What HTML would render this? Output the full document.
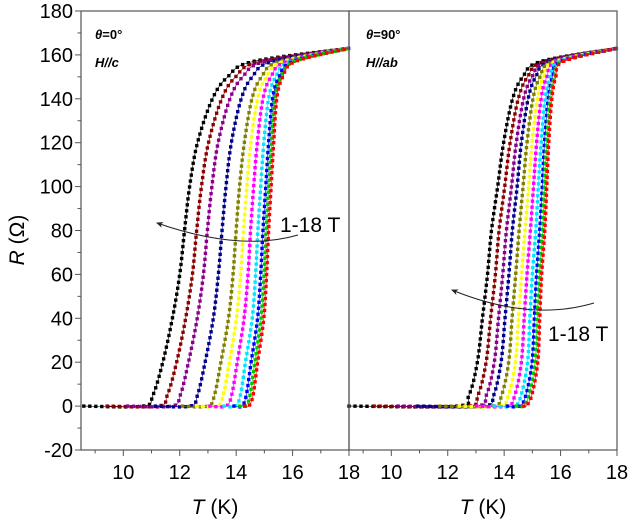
<!DOCTYPE html>
<html><head><meta charset="utf-8"><style>
html,body{margin:0;padding:0;background:#fff;}
svg{display:block;font-family:"Liberation Sans",sans-serif;}
</style></head><body>
<svg id="chart" width="629" height="522" viewBox="0 0 629 522">
<g id="plots"></g>
<g id="axes"></g>
<text x="0" y="0" transform="translate(24,240) rotate(-90)" font-size="21" text-anchor="middle"><tspan font-style="italic">R</tspan> (Ω)</text>
<text x="215" y="514" font-size="21" text-anchor="middle"><tspan font-style="italic">T</tspan> (K)</text>
<text x="483" y="514" font-size="21" text-anchor="middle"><tspan font-style="italic">T</tspan> (K)</text>
<text x="95" y="39" font-size="13" font-weight="bold"><tspan font-style="italic">θ</tspan>=0°</text>
<text x="95" y="67" font-size="13" font-weight="bold" font-style="italic">H//c</text>
<text x="366" y="39" font-size="13" font-weight="bold"><tspan font-style="italic">θ</tspan>=90°</text>
<text x="366" y="67" font-size="13" font-weight="bold" font-style="italic">H//ab</text>
<defs><marker id="ah" markerWidth="8" markerHeight="8" refX="6" refY="4" orient="auto"><path d="M0,1 L7,4 L0,7 L2,4 Z" fill="#222"/></marker></defs>
<path d="M298,235 Q240,252 157,223" fill="none" stroke="#222" stroke-width="1" marker-end="url(#ah)"/>
<text x="280" y="232" font-size="21">1-18 T</text>
<path d="M594,303 Q530,322 452,290" fill="none" stroke="#222" stroke-width="1" marker-end="url(#ah)"/>
<text x="548" y="341" font-size="21">1-18 T</text>
</svg>
<script>
const rLevels=[0,0,5,20,40,60,80,100,120,140,150,157,163];
const colors=["#000000","#8b0000","#8b008b","#00008b","#808000","#ffff00","#ff00ff","#00e5ff","#0000ff","#00cc00","#ff0000"];
const leftBlack=[8.6,10.7,11.05,11.4,11.74,12.0,12.17,12.35,12.63,13.16,13.7,14.6,18];
const leftMaroon=[9.43,11.24,11.56,11.89,12.21,12.45,12.60,12.77,13.02,13.49,13.98,14.82,18];
const leftPurple=[10.15,11.72,12.02,12.31,12.62,12.84,12.98,13.14,13.36,13.78,14.23,15.01,18];
const leftNavy=[11.14,12.37,12.63,12.90,13.19,13.37,13.50,13.64,13.83,14.18,14.57,15.27,18];
const leftOlive=[12.10,13.0,13.23,13.46,13.73,13.89,14.0,14.12,14.29,14.56,14.90,15.52,18];
const leftYellow=[12.6,13.33,13.54,13.76,14.01,14.16,14.26,14.38,14.52,14.76,15.07,15.65,18];
const leftMagenta=[13.07,13.64,13.84,14.04,14.28,14.42,14.51,14.62,14.75,14.95,15.23,15.78,18];
const leftCyan=[13.57,13.97,14.15,14.33,14.57,14.69,14.77,14.87,14.98,15.15,15.40,15.91,18];
const leftBlue=[13.92,14.20,14.36,14.53,14.76,14.87,14.95,15.05,15.15,15.29,15.52,16.0,18];
const leftGreen=[14.13,14.34,14.49,14.66,14.88,14.99,15.06,15.15,15.25,15.37,15.59,16.06,18];
const leftRed=[14.3,14.45,14.6,14.76,14.98,15.08,15.15,15.24,15.33,15.44,15.65,16.1,18];
const rightBlack=[8.5,12.3,12.75,13.05,13.23,13.41,13.55,13.77,13.98,14.3,14.66,15.3,18];
const rightMaroon=[9.39,12.66,13.07,13.36,13.52,13.69,13.82,14.02,14.21,14.50,14.83,15.42,18];
const rightPurple=[10.24,12.99,13.37,13.65,13.80,13.95,14.08,14.26,14.43,14.69,14.99,15.52,18];
const rightNavy=[10.94,13.28,13.63,13.89,14.03,14.17,14.29,14.46,14.61,14.85,15.12,15.62,18];
const rightOlive=[11.72,13.59,13.91,14.16,14.28,14.41,14.53,14.67,14.81,15.02,15.27,15.72,18];
const rightYellow=[12.41,13.86,14.15,14.40,14.51,14.62,14.74,14.87,14.99,15.18,15.40,15.80,18];
const rightMagenta=[13.03,14.11,14.38,14.61,14.71,14.81,14.93,15.04,15.15,15.31,15.51,15.88,18];
const rightCyan=[13.65,14.36,14.60,14.83,14.91,15.0,15.12,15.21,15.31,15.45,15.63,15.96,18];
const rightBlue=[14.12,14.55,14.77,14.99,15.07,15.15,15.26,15.35,15.43,15.56,15.72,16.02,18];
const rightGreen=[14.43,14.67,14.88,15.10,15.17,15.25,15.36,15.43,15.51,15.63,15.78,16.06,18];
const rightRed=[14.7,14.78,14.98,15.19,15.26,15.33,15.44,15.51,15.58,15.69,15.83,16.1,18];
const fieldLabels=["1 T","2 T","4 T","6 T","8 T","10 T","12 T","14 T","16 T","17 T","18 T"];
const yTicks=[-20,0,20,40,60,80,100,120,140,160,180];
const xTicks=[10,12,14,16,18];

const leftSeries=[leftBlack,leftMaroon,leftPurple,leftNavy,leftOlive,leftYellow,leftMagenta,leftCyan,leftBlue,leftGreen,leftRed];
const rightSeries=[rightBlack,rightMaroon,rightPurple,rightNavy,rightOlive,rightYellow,rightMagenta,rightCyan,rightBlue,rightGreen,rightRed];
const NS="http://www.w3.org/2000/svg";
const plotTop=11,plotBot=450,ymin=-20,ymax=180,xmin=8.5,xmax=18;
const panels=[{x0:81,x1:349,series:leftSeries,name:'left'},{x0:349,x1:617,series:rightSeries,name:'right'}];
function yS(v){return plotBot-(v-ymin)/(ymax-ymin)*(plotBot-plotTop);}
function mkX(p){return v=>p.x0+(v-xmin)/(xmax-xmin)*(p.x1-p.x0);}
function el(t,a){const e=document.createElementNS(NS,t);for(const k in a)e.setAttribute(k,a[k]);return e;}
function smooth(pts){
  let d=`M${pts[0][0]},${pts[0][1]}`;
  for(let i=0;i<pts.length-1;i++){
    const p0=pts[Math.max(0,i-1)],p1=pts[i],p2=pts[i+1],p3=pts[Math.min(pts.length-1,i+2)];
    const c1=[p1[0]+(p2[0]-p0[0])/6,p1[1]+(p2[1]-p0[1])/6];
    const c2=[p2[0]-(p3[0]-p1[0])/6,p2[1]-(p3[1]-p1[1])/6];
    d+=` C${c1[0]},${c1[1]} ${c2[0]},${c2[1]} ${p2[0]},${p2[1]}`;
  }
  return d;
}
const plots=document.getElementById('plots');
const axes=document.getElementById('axes');
panels.forEach(p=>{
  const xS=mkX(p);
  const g=el('g',{});
  
  
  plots.appendChild(g);
  p.series.forEach((arr,si)=>{
    const pts=arr.map((t,i)=>[xS(t),yS(rLevels[i])]);
    const path=el('path',{d:smooth(pts),fill:'none',stroke:colors[si],'stroke-width':0.6});
    
    
    g.appendChild(path);
    const L=path.getTotalLength();
    for(let s=0;s<=L;s+=6){
      const q=path.getPointAtLength(s);
      const m=el('rect',{x:q.x-1.7,y:q.y-1.7,width:3.4,height:3.4,fill:colors[si]});
      
      
      g.appendChild(m);
    }
  });
  const frame=el('rect',{x:p.x0,y:plotTop,width:p.x1-p.x0,height:plotBot-plotTop,fill:'none',stroke:'#555','stroke-width':1.2});
  
  
  axes.appendChild(frame);
  for(let v=9;v<=18;v++){
    const major=v%2===0;
    const t=el('line',{x1:xS(v),x2:xS(v),y1:plotBot,y2:plotBot+(major?6:3.5),stroke:'#555','stroke-width':1});
    
    
    axes.appendChild(t);
  }
  xTicks.forEach(v=>{
    const tx=el('text',{x:xS(v),y:479,'font-size':20,'text-anchor':'middle'});
    tx.textContent=v;
    
    
    axes.appendChild(tx);
  });
});
for(let v=-20;v<=180;v+=10){
  const major=v%20===0;
  const t=el('line',{x1:81,x2:81-(major?6:3.5),y1:yS(v),y2:yS(v),stroke:'#555','stroke-width':1});
  
  
  axes.appendChild(t);
}
yTicks.forEach(v=>{
  const tx=el('text',{x:73,y:yS(v)+7,'font-size':20,'text-anchor':'end'});
  tx.textContent=v;
  
  
  axes.appendChild(tx);
});
</script>
</body></html>
